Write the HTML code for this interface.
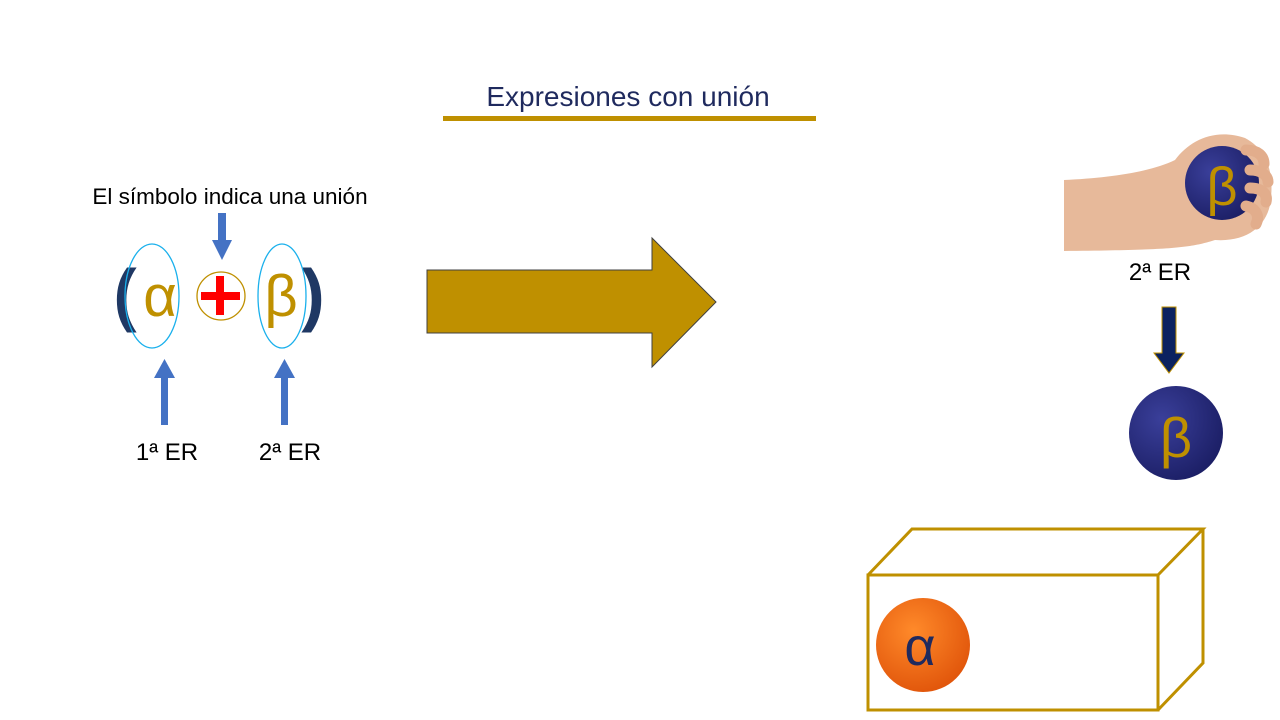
<!DOCTYPE html>
<html><head><style>body{margin:0;background:#fff}svg{display:block}</style></head><body>
<svg width="1280" height="720" viewBox="0 0 1280 720" font-family="Liberation Sans, sans-serif">
<defs>
<radialGradient id="og" cx="0.4" cy="0.35" r="0.7"><stop offset="0" stop-color="#ff8a2a"/><stop offset="1" stop-color="#e0540a"/></radialGradient>
<radialGradient id="bg" cx="0.35" cy="0.35" r="0.7"><stop offset="0" stop-color="#3a3f9a"/><stop offset="1" stop-color="#1c1f66"/></radialGradient>
</defs>
<text x="628" y="106" font-size="28" fill="#1f2a5e" text-anchor="middle">Expresiones con unión</text>
<rect x="443" y="116" width="373" height="5" fill="#bf9000"/>
<text x="230" y="204" font-size="22.5" text-anchor="middle">El símbolo indica una unión</text>
<path d="M218 213h8v27h6l-10 20l-10-20h6z" fill="#4472c4"/>
<path d="M161 425h7v-47h7l-10.5-19l-10.5 19h7z" fill="#4472c4"/>
<path d="M281 425h7v-47h7l-10.5-19l-10.5 19h7z" fill="#4472c4"/>
<text x="125" y="318" font-size="70" fill="#1f3864" font-weight="bold" text-anchor="middle">(</text>
<text x="313" y="318" font-size="70" fill="#1f3864" font-weight="bold" text-anchor="middle">)</text>
<text x="160" y="316" font-size="58" fill="#bf9000" text-anchor="middle">α</text>
<text x="281" y="316" font-size="58" fill="#bf9000" text-anchor="middle">β</text>
<ellipse cx="152" cy="296" rx="27" ry="52" fill="none" stroke="#1ab0ec" stroke-width="1.3"/>
<ellipse cx="282" cy="296" rx="24" ry="52" fill="none" stroke="#1ab0ec" stroke-width="1.3"/>
<circle cx="221" cy="296" r="24" fill="none" stroke="#bf9000" stroke-width="1.3"/>
<rect x="201" y="292" width="39" height="8" fill="#f00"/><rect x="216" y="276" width="8" height="39" fill="#f00"/>
<text x="167" y="460" font-size="24" text-anchor="middle">1ª ER</text>
<text x="290" y="460" font-size="24" text-anchor="middle">2ª ER</text>
<path d="M427 270H652V238L716 302L652 367V333H427Z" fill="#bf9000" stroke="#404040" stroke-width="1"/>
<!-- hand -->
<path d="M1064 180C1110 178 1150 172 1175 160C1190 140 1215 128 1245 138C1268 150 1275 175 1270 205C1265 228 1245 242 1215 240C1190 248 1170 250 1064 251Z" fill="#e7b99a"/>
<circle cx="1222" cy="183" r="37" fill="url(#bg)"/>
<path d="M1246 150c12 0 18 6 18 14M1250 170c12 0 18 6 18 12M1250 188c12 0 18 6 16 14M1246 206c10 2 14 10 10 18" stroke="#e2ad8c" stroke-width="11" fill="none" stroke-linecap="round"/>
<text x="1222" y="205" font-size="54" fill="#bf9000" text-anchor="middle">β</text>
<text x="1160" y="280" font-size="24" text-anchor="middle">2ª ER</text>
<path d="M1162 307h14v46h8l-15 20l-15-20h8z" fill="#0b2260" stroke="#bf9000" stroke-width="1"/>
<circle cx="1176" cy="433" r="47" fill="url(#bg)"/>
<text x="1176" y="457" font-size="56" fill="#bf9000" text-anchor="middle">β</text>
<!-- box -->
<g fill="none" stroke="#bf9000" stroke-width="3">
<rect x="868" y="575" width="290" height="135"/>
<path d="M868 575L912 529H1203L1158 575M1203 529V663L1158 710"/>
</g>
<circle cx="923" cy="645" r="47" fill="url(#og)"/>
<text x="920" y="665" font-size="54" fill="#1f2a5e" text-anchor="middle">α</text>
</svg>
</body></html>
